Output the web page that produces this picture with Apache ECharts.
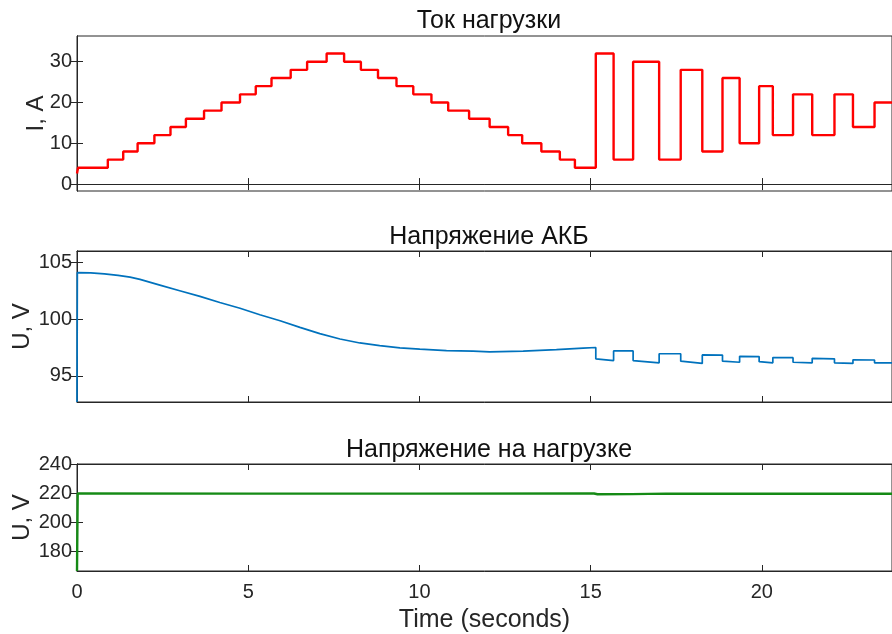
<!DOCTYPE html>
<html style="height: 100%">
<head>
    <meta charset="utf-8">
    <title>Ток и напряжение</title>
</head>
<body style="height: 100%; margin: 0; background: #fff">
<div id="container" style="width: 892px; height: 634px"></div>
<script type="text/javascript" src="https://cdn.jsdelivr.net/npm/echarts@6/dist/echarts.min.js"></script>
<script type="text/javascript">
// ток нагрузки: моменты переключения и уровень после каждого
var currT = [0, 0.03, 0.9, 1.35, 1.77, 2.26, 2.73, 3.18, 3.71, 4.22, 4.76, 5.22, 5.68, 6.24, 6.72, 7.29, 7.80,
    8.29, 8.79, 9.33, 9.82, 10.35, 10.84, 11.45, 12.05, 12.59, 13.0, 13.56, 14.1, 14.54, 15.15, 15.67, 16.24,
    17.0, 17.63, 18.26, 18.85, 19.35, 19.92, 20.32, 20.91, 21.47, 22.12, 22.66, 23.29, 23.8];
var currI = [2.6, 4, 6, 8, 10, 12, 14, 16, 18, 20, 22, 24, 26, 28, 30, 32, 30,
    28, 26, 24, 22, 20, 18, 16, 14, 12, 10, 8, 6, 4, 32, 6, 30,
    6, 28, 8, 26, 10, 24, 12, 22, 12, 22, 14, 20, 20];

// напряжение АКБ
var battT = [0, 0.01, 0.4, 0.8, 1.2, 1.55, 1.84, 2.42, 3.0, 3.59, 4.17, 4.76, 5.34, 5.93, 6.51, 7.09, 7.68, 8.26, 8.84,
    9.43, 10.01, 10.79, 11.57, 12.05, 13.03, 14.0, 14.78, 15.15, 15.15, 15.67, 15.67, 16.24, 16.24, 17.0, 17.0,
    17.63, 17.63, 18.26, 18.26, 18.85, 18.85, 19.35, 19.35, 19.92, 19.92, 20.32, 20.32, 20.91, 20.91, 21.47,
    21.47, 22.12, 22.12, 22.66, 22.66, 23.29, 23.29, 23.8];
var battU = [92.7, 104.1, 104.07, 103.98, 103.85, 103.7, 103.5, 103.0, 102.5, 102.0, 101.46, 100.96, 100.38, 99.86, 99.27, 98.72,
    98.25, 97.9, 97.67, 97.47, 97.35, 97.22, 97.18, 97.12, 97.18, 97.32, 97.45, 97.5, 96.5, 96.35, 97.2, 97.2,
    96.35, 96.15, 96.95, 96.95, 96.3, 96.1, 96.85, 96.83, 96.3, 96.2, 96.72, 96.7, 96.25, 96.15, 96.62, 96.6,
    96.2, 96.15, 96.55, 96.5, 96.15, 96.1, 96.42, 96.4, 96.15, 96.15];

// напряжение на нагрузке
var loadT = [0, 0.02, 5, 10, 15.1, 15.2, 16.2, 17.2, 23.8];
var loadU = [166.4, 219.8, 219.6, 219.6, 219.7, 219.2, 219.3, 219.6, 219.5];

var titles = ['Ток нагрузки', 'Напряжение АКБ', 'Напряжение на нагрузке'];
var yNames = ['I, A', 'U, V', 'U, V'];
var yTicks = [[0, 10, 20, 30], [95, 100, 105], [180, 200, 220, 240]];
var yRanges = [[-1.7, 36.3], [92.7, 106], [166.4, 240]];
var xTicks = [0, 5, 10, 15, 20];

function zip(a, b) {
    var out = [];
    for (var i = 0; i < a.length; i++) out.push([a[i], b[i]]);
    return out;
}

var dom = document.getElementById('container');
var myChart = echarts.init(dom);

var font = "'Liberation Sans', Arial, sans-serif";
var ink = '#262626';
var grids = [
    {left: 77, width: 815, top: 36, height: 155},
    {left: 77, width: 815, top: 251, height: 151},
    {left: 77, width: 815, top: 464, height: 107}
];
var titleTops = [4, 220, 433];
var nameGaps = [29, 43, 43];

var xAxes = [], yAxes = [], titleList = [];
for (var g = 0; g < 3; g++) {
    grids[g].show = true;
    grids[g].borderColor = ink;
    grids[g].borderWidth = 1;
    grids[g].outerBoundsMode = 'none';
    titleList.push({
        text: titles[g], left: 484, top: titleTops[g], textAlign: 'center',
        textStyle: {fontFamily: font, fontSize: 25, fontWeight: 'normal', color: '#111'}
    });
    ['bottom', 'top'].forEach(function (pos) {
        var last = (g === 2 && pos === 'bottom');
        xAxes.push({
            gridIndex: g, type: 'value', position: pos, min: 0, max: 23.8,
            axisLine: {show: true, lineStyle: {color: ink}},
            axisTick: {show: true, inside: true, length: 6, customValues: xTicks, lineStyle: {color: ink}},
            axisLabel: {show: last, customValues: xTicks, margin: 11, fontFamily: font, fontSize: 20, color: ink},
            splitLine: {show: false},
            name: last ? 'Time (seconds)' : '', nameLocation: 'middle', nameGap: 37, nameMoveOverlap: false,
            nameTextStyle: {fontFamily: font, fontSize: 25, color: ink}
        });
    });
    ['left', 'right'].forEach(function (pos) {
        var left = pos === 'left';
        yAxes.push({
            gridIndex: g, type: 'value', position: pos, min: yRanges[g][0], max: yRanges[g][1],
            axisLine: {show: true, lineStyle: {color: ink}},
            axisTick: {show: true, inside: true, length: 6, customValues: yTicks[g], lineStyle: {color: ink}},
            axisLabel: {show: left, customValues: yTicks[g], margin: 5, fontFamily: font, fontSize: 20, color: ink},
            splitLine: {show: false},
            name: left ? yNames[g] : '', nameLocation: 'middle', nameGap: nameGaps[g], nameRotate: 90,
            nameMoveOverlap: false,
            nameTextStyle: {fontFamily: font, fontSize: 24, color: ink}
        });
    });
}

var option = {
    animation: false,
    backgroundColor: '#fff',
    title: titleList,
    grid: grids,
    xAxis: xAxes,
    yAxis: yAxes,
    series: [{
        type: 'line', xAxisIndex: 0, yAxisIndex: 0, step: 'end', showSymbol: false,
        lineStyle: {color: '#ff0000', width: 2.4}, data: zip(currT, currI)
    }, {
        type: 'line', xAxisIndex: 2, yAxisIndex: 2, showSymbol: false,
        lineStyle: {color: '#0072bd', width: 1.7}, data: zip(battT, battU)
    }, {
        type: 'line', xAxisIndex: 4, yAxisIndex: 4, showSymbol: false,
        lineStyle: {color: '#158a15', width: 2.4}, data: zip(loadT, loadU)
    }]
};
myChart.setOption(option);
</script>
</body>
</html>
